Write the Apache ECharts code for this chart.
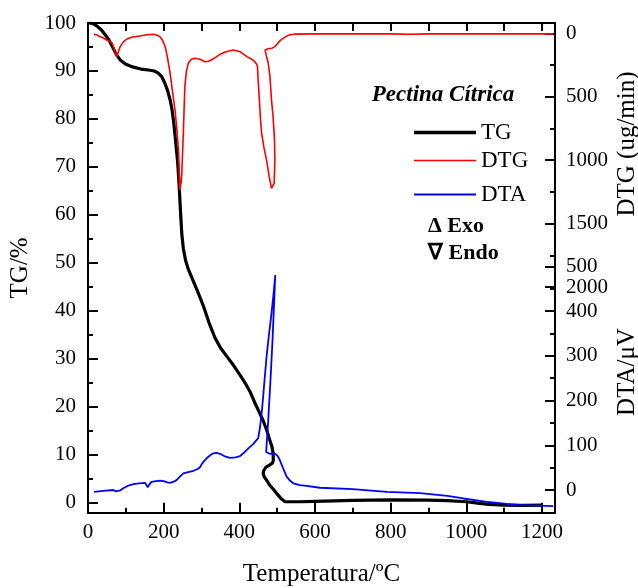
<!DOCTYPE html>
<html><head><meta charset="utf-8">
<script src="https://cdn.jsdelivr.net/npm/echarts@6/dist/echarts.min.js"></script>
<style>html,body{margin:0;padding:0;background:#fff}#c{width:638px;height:588px}</style>
</head><body><div id="c"></div>
<script>
// ---- TG (mass %) ----
const tgTemp = [2,12,23,35,45,55,65,75,85,100,120,140,160,175,185,195,203,210,217,222,227,232,237,241,245,248,252,258,265,275,290,305,320,335,350,367,385,402,415,428,440,452,462,472,480,486,489,490,488,481,470,464,463,466,472,480,490,498,510,521,530,560,600,700,800,900,950,1000,1030,1060,1100,1150,1200];
const tgMass = [100,99.9,99.4,98.6,97.6,96.5,95.0,93.4,92.3,91.4,90.8,90.4,90.2,90.0,89.6,88.8,87.5,86,84,82,79,75,71,66,60,56,53,50.5,48.7,46.8,44,41,37.5,34.5,32.3,30.5,28.6,26.6,25,23.2,21,19,17.3,15.2,13.2,11.7,10.5,9,8.3,7.9,7.4,6.6,6.0,5.4,4.7,3.7,2.8,2.0,0.9,0.2,0.2,0.2,0.3,0.5,0.6,0.55,0.45,0.2,-0.1,-0.35,-0.5,-0.55,-0.5];

// ---- DTG (ug/min) ----
const dtgTemp = [16,25,32,40,49,56,63,68,72,76,80,85,93,102,115,137,155,173,183,190,197,204,210,217,223,230,235,239,243,246,248,250,252,254,256,260,265,273,283,296,309,318,326,337,349,365,384,402,420,433,441,446,448,450,453,456,459,465,472,479,485,489,492,494,493,492,489,485,481,476,472,468,470,476,486,494,499,504,510,516,525,535,545,600,700,800,850,900,1000,1100,1200,1230];
const dtgRate = [8,15,27,35,53,60,74,110,160,184,150,105,70,47,32,21,12,8,15,27,55,105,190,315,450,605,760,920,1236,1180,1104,950,789,600,421,300,237,205,197,205,224,220,211,190,166,145,132,145,184,205,224,245,263,380,526,680,789,900,1000,1130,1222,1215,1183,1000,850,789,650,526,342,230,184,132,126,122,118,105,90,70,52,40,22,12,7,5,5,5,8,5,5,5,5,5];

// ---- DTA (uV) ----
const dtaTemp = [16,40,67,73,78,85,93,105,120,135,151,155,158,162,168,180,190,200,210,217,225,234,243,252,265,279,290,296,300,305,315,325,331,340,349,360,375,390,402,413,424,437,450,455,460,463,467,472,478,485,490,494,495,492,488,482,476,472,471,474,480,488,495,502,507,515,525,535,543,560,578,613,700,790,878,950,992,1050,1107,1150,1230];
const dtaSignal = [-4,-2,0,-3,-6,-1,4,9,13,15,16,12,6,12,18,20,21,20,17,16,18,22,30,37,40,43,47,51,57,63,72,79,82,83,81,76,72,73,76,84,93,103,116,142,180,209,250,298,345,395,435,470,481,420,340,240,150,100,85,82,81,82,81,75,67,50,30,20,15,11,9,5,2,-4,-7,-13,-19,-26,-31,-34,-36];

// ---- tick labels ----
const xTicks = [0,200,400,600,800,1000,1200];
const xMinor = [100,300,500,700,900,1100];
const xTop = [100,200,300,400,500,600,700,800,900,1000,1100,1200];
const tgTicks = [0,10,20,30,40,50,60,70,80,90,100];
const tgMinor = [5,15,25,35,45,55,65,75,85,95];
const dtgTicks = [0,500,1000,1500,2000];
const dtgMinor = [250,750,1250,1750];
const dtaTicks = [0,100,200,300,400,500];
const dtaMinor = [50,150,250,350,450];

const seriesNames = ['TG','DTG','DTA'];

function zip(a,b){return a.map((v,i)=>[v,b[i]]);}
const FONT = '"Liberation Serif","Times New Roman",serif';
const AX = {color:'#000', width:2};
const plain = v => String(v);

function valAxis(extra){
  return Object.assign({
    type:'value', splitLine:{show:false},
    axisLine:{show:false, lineStyle:AX},
    axisTick:{show:true, inside:true, length:10, lineStyle:AX},
    axisLabel:{show:false, fontFamily:FONT, fontSize:21, color:'#000'}
  }, extra);
}
function lab(margin, vals){
  return {show:true, margin:margin, fontFamily:FONT, fontSize:21, color:'#000', customValues:vals, formatter:plain};
}
function tick(len, vals){
  return {show:true, inside:true, length:len, lineStyle:AX, customValues:vals};
}

const X = {min:0, max:1234.4};
const TGR = {min:-2.08, max:100};
const DTGR = {min:-81, max:3779};
const DTAR = {min:-50.8, max:1044.7};

const chart = echarts.init(document.getElementById('c'));
chart.setOption({
  animation:false,
  backgroundColor:'#fff',
  grid:{left:88, right:83, top:23, bottom:75.3, containLabel:false, outerBoundsMode:'none'},
  xAxis:[
    valAxis(Object.assign({position:'bottom', name:'Temperatura/ºC', nameLocation:'middle', nameGap:49,
      nameTextStyle:{fontFamily:FONT, fontSize:25, color:'#000'},
      axisLine:{show:true, onZero:false, lineStyle:AX},
      axisTick:tick(10, xTicks), axisLabel:lab(9, xTicks)}, X)),
    valAxis(Object.assign({position:'bottom', axisLine:{show:false, onZero:false}, axisTick:tick(5, xMinor)}, X)),
    valAxis(Object.assign({position:'top',
      axisLine:{show:true, onZero:false, lineStyle:AX}, axisTick:tick(8, xTop)}, X))
  ],
  yAxis:[
    valAxis(Object.assign({position:'left', name:'TG/%', nameLocation:'middle', nameGap:55,
      nameTextStyle:{fontFamily:FONT, fontSize:25, color:'#000'},
      axisLine:{show:true, onZero:false, lineStyle:AX},
      axisTick:tick(10, tgTicks), axisLabel:lab(12, tgTicks)}, TGR)),
    valAxis(Object.assign({position:'left', axisLine:{show:false, onZero:false}, axisTick:tick(5, tgMinor)}, TGR)),
    valAxis(Object.assign({position:'right', inverse:true,
      axisLine:{show:true, onZero:false, lineStyle:AX},
      axisTick:tick(10, dtgTicks), axisLabel:lab(11, dtgTicks)}, DTGR)),
    valAxis(Object.assign({position:'right', inverse:true, axisLine:{show:false, onZero:false}, axisTick:tick(5, dtgMinor)}, DTGR)),
    valAxis(Object.assign({position:'right', axisLine:{show:false, onZero:false},
      axisTick:tick(10, dtaTicks), axisLabel:lab(11, dtaTicks)}, DTAR)),
    valAxis(Object.assign({position:'right', axisLine:{show:false, onZero:false}, axisTick:tick(5, dtaMinor)}, DTAR))
  ],
  legend:[
    {data:[seriesNames[0]], left:414, top:121, padding:0, icon:'rect', itemWidth:62, itemHeight:3.5, selectedMode:false,
     textStyle:{fontFamily:FONT, fontSize:23, color:'#000'}},
    {data:[seriesNames[1]], left:414, top:149, padding:0, icon:'rect', itemWidth:62, itemHeight:1.6, selectedMode:false,
     textStyle:{fontFamily:FONT, fontSize:23, color:'#000'}},
    {data:[seriesNames[2]], left:414, top:183, padding:0, icon:'rect', itemWidth:62, itemHeight:1.8, selectedMode:false,
     textStyle:{fontFamily:FONT, fontSize:23, color:'#000'}}
  ],
  graphic:[
    {type:'text', x:443, y:95, style:{text:'Pectina Cítrica', fontFamily:FONT, fontSize:23, fontWeight:'bold', fontStyle:'italic', fill:'#000', align:'center', verticalAlign:'middle'}},
    {type:'text', x:428, y:226, style:{text:'Δ Exo', fontFamily:FONT, fontSize:22, fontWeight:'bold', fill:'#000', align:'left', verticalAlign:'middle'}},
    {type:'text', x:428, y:253, style:{text:'∇ Endo', fontFamily:FONT, fontSize:22, fontWeight:'bold', fill:'#000', align:'left', verticalAlign:'middle'}},
    {type:'text', x:627, y:144, rotation:Math.PI/2, style:{text:'DTG (ug/min)', fontFamily:FONT, fontSize:25, fill:'#000', align:'center', verticalAlign:'middle'}},
    {type:'text', x:627, y:372, rotation:Math.PI/2, style:{text:'DTA/μV', fontFamily:FONT, fontSize:25, fill:'#000', align:'center', verticalAlign:'middle'}}
  ],
  series:[
    {name:seriesNames[0], type:'line', xAxisIndex:0, yAxisIndex:0, data:zip(tgTemp,tgMass), symbol:'none', showSymbol:false,
     color:'#000', lineStyle:{color:'#000', width:3.2}, z:2},
    {name:seriesNames[1], type:'line', xAxisIndex:0, yAxisIndex:2, data:zip(dtgTemp,dtgRate), symbol:'none', showSymbol:false,
     color:'#ff0000', lineStyle:{color:'#ff0000', width:1.6}, z:3},
    {name:seriesNames[2], type:'line', xAxisIndex:0, yAxisIndex:4, data:zip(dtaTemp,dtaSignal), symbol:'none', showSymbol:false,
     color:'#0000ff', lineStyle:{color:'#0000ff', width:1.8}, z:4}
  ]
});
</script>
</body></html>
